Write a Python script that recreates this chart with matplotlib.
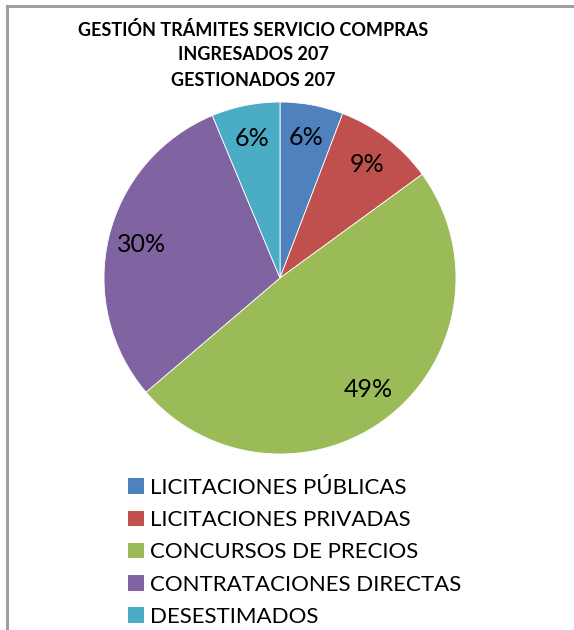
import matplotlib
matplotlib.use("Agg")
import matplotlib.pyplot as plt
from matplotlib.patches import Patch
from matplotlib.lines import Line2D

categories = ["LICITACIONES PÚBLICAS", "LICITACIONES PRIVADAS", "CONCURSOS DE PRECIOS",
              "CONTRATACIONES DIRECTAS", "DESESTIMADOS"]
counts = [12, 19, 101, 62, 13]
colors = ["#4F81BD", "#C0504D", "#9BBB59", "#8064A2", "#4BACC6"]
title_lines = ["GESTIÓN TRÁMITES SERVICIO COMPRAS", "INGRESADOS 207", "GESTIONADOS 207"]

W, H = 574, 630
fig = plt.figure(figsize=(W / 100, H / 100), dpi=100)
fig.patch.set_facecolor("white")

# border (left and top only visible)
fig.add_artist(Line2D([6.5 / W, 6.5 / W], [0, 1 - 5.5 / H], color="#A0A0A0", lw=2.2, transform=fig.transFigure))
fig.add_artist(Line2D([6.5 / W, 1], [1 - 5.5 / H, 1 - 5.5 / H], color="#A0A0A0", lw=2.2, transform=fig.transFigure))

cx, cy, R = 280, 278, 176
ax = fig.add_axes([(cx - R) / W, (H - cy - R) / H, 2 * R / W, 2 * R / H])
wedges, texts, autotexts = ax.pie(
    counts, colors=colors, startangle=90, counterclock=False,
    autopct=lambda p: f"{p:.0f}%", pctdistance=0.81,
    wedgeprops=dict(edgecolor="white", linewidth=0.6),
    textprops=dict(fontsize=18, family="Lato", color="black"))
ax.set_aspect("equal")
ax.set_xlim(-1, 1)
ax.set_ylim(-1, 1)

ys = [30, 55, 80]
for t, y in zip(title_lines, ys):
    fig.text(253 / W, 1 - y / H, t, ha="center", va="center", fontsize=13,
             fontweight="bold", family="Lato")

handles = [Patch(facecolor=c, edgecolor="none") for c in colors]
leg = fig.legend(handles, categories, loc="upper left",
                 bbox_to_anchor=(128 / W, 1 - 478 / H), frameon=False,
                 prop=dict(family="Lato", size=16), handlelength=0.7, handleheight=0.7,
                 handletextpad=0.3, labelspacing=0.55, borderpad=0, borderaxespad=0)

fig.savefig("out.png", dpi=100, facecolor="white")
